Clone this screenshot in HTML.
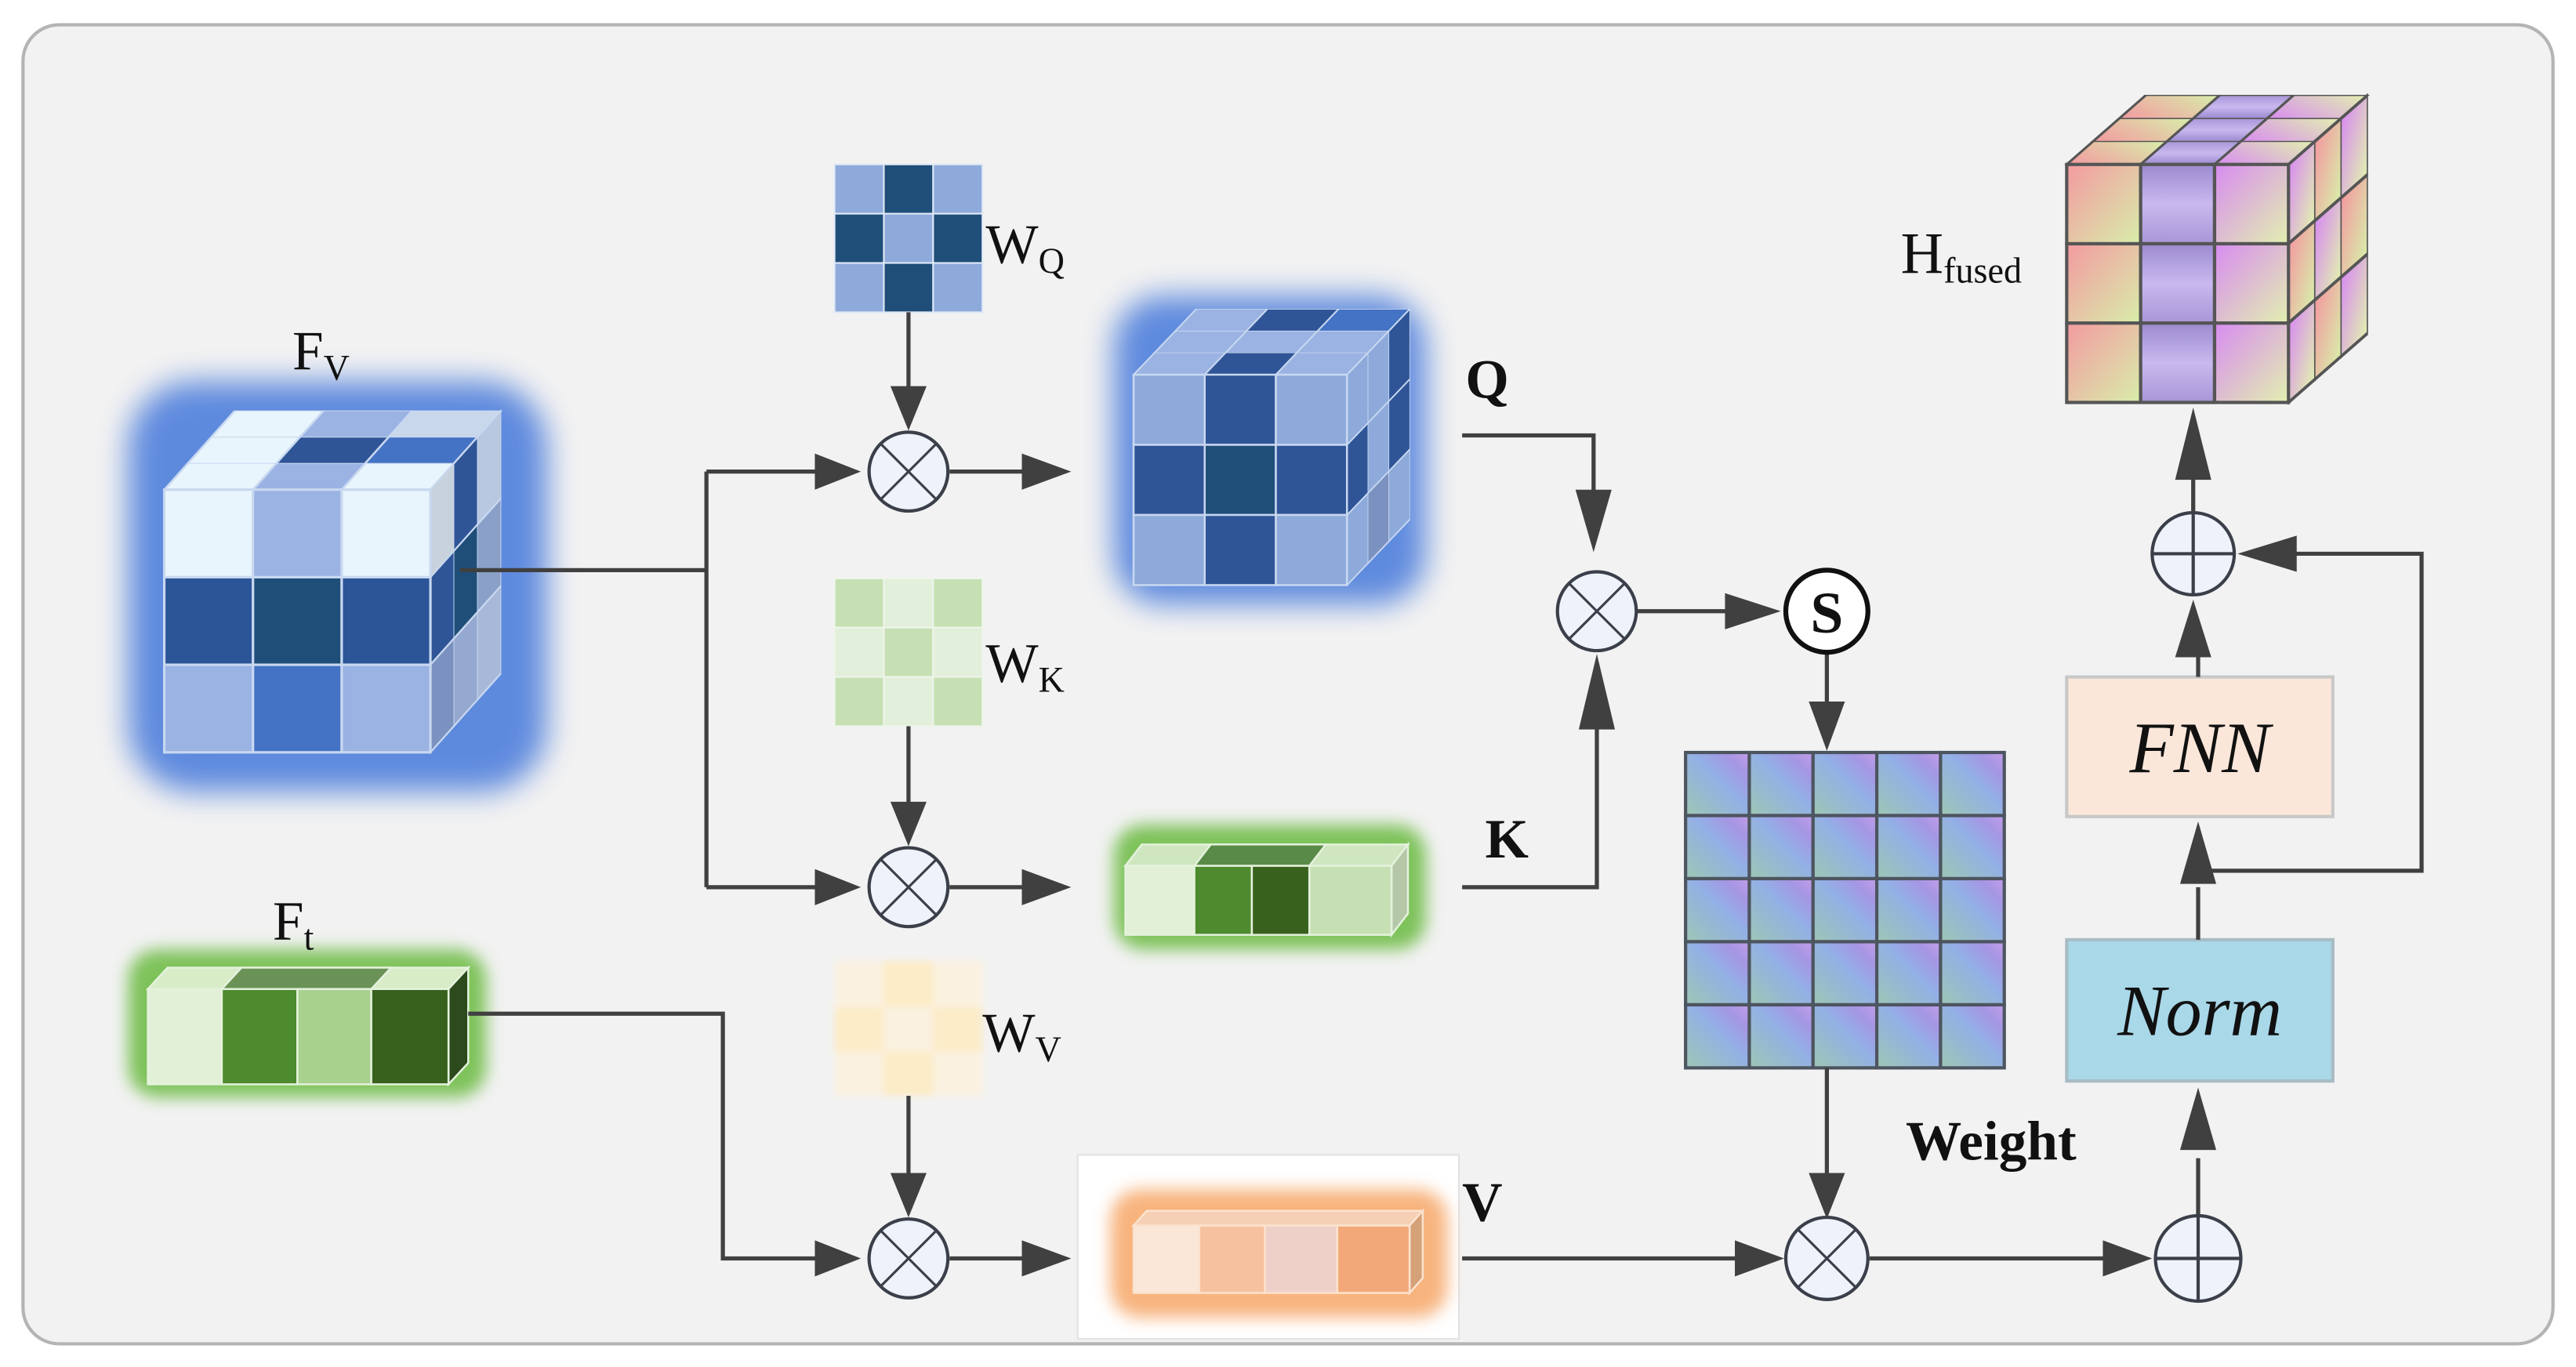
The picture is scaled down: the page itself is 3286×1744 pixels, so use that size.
<!DOCTYPE html>
<html><head><meta charset="utf-8"><style>
html,body{margin:0;padding:0;background:#fff}
svg{display:block}
text{font-family:"Liberation Serif",serif;fill:#111}
</style></head><body>
<svg width="3286" height="1744" viewBox="0 0 1568 832" xmlns="http://www.w3.org/2000/svg">
<defs>
<filter id="gb" x="-30%" y="-30%" width="160%" height="160%"><feGaussianBlur stdDeviation="9"/></filter>
<filter id="gs" x="-30%" y="-30%" width="160%" height="160%"><feGaussianBlur stdDeviation="5"/></filter>
<filter id="blur2"><feGaussianBlur stdDeviation="2"/></filter>
<linearGradient id="wg" x1="0" y1="1" x2="1" y2="0">
<stop offset="0" stop-color="#9ec6b4"/><stop offset="0.55" stop-color="#93b0e6"/><stop offset="0.8" stop-color="#a596e4"/><stop offset="1" stop-color="#c39ee8"/></linearGradient>
<linearGradient id="h1" x1="0" y1="0" x2="1" y2="1"><stop offset="0" stop-color="#f39aa0"/><stop offset="1" stop-color="#d8eeaa"/></linearGradient>
<linearGradient id="h2" x1="0" y1="0" x2="0" y2="1"><stop offset="0" stop-color="#9c8ad0"/><stop offset="0.5" stop-color="#c8b8ee"/><stop offset="1" stop-color="#a896d8"/></linearGradient>
<linearGradient id="h3" x1="0" y1="0" x2="1" y2="1"><stop offset="0" stop-color="#d88cf0"/><stop offset="1" stop-color="#e2f0b0"/></linearGradient>
</defs>

<rect x="14" y="15" width="1540" height="803" rx="22" fill="#f2f2f2" stroke="#b4b4b4" stroke-width="2"/>

<!-- glows -->
<rect x="78" y="232" width="255" height="250" rx="40" fill="#4f7fdc" filter="url(#gb)" opacity="0.9"/>
<rect x="678" y="180" width="190" height="188" rx="30" fill="#4f7fdc" filter="url(#gb)" opacity="0.9"/>
<rect x="678" y="502" width="190" height="76" rx="18" fill="#7ec25a" filter="url(#gs)"/>
<rect x="78" y="578" width="218" height="90" rx="18" fill="#7ec25a" filter="url(#gs)"/>
<rect x="656" y="703" width="232" height="112" fill="#ffffff" stroke="#e2e2e2"/>
<rect x="676" y="724" width="205" height="78" rx="18" fill="#f8b47e" filter="url(#gs)"/>

<!-- Fv cube -->
<g stroke="#c8d8f0" stroke-width="1.5">
<g transform="matrix(54,0,14.3,-16,100,298)" stroke-width="0.03">
<rect x="0" y="0" width="1" height="1" fill="#e8f5fc"/><rect x="1" y="0" width="1" height="1" fill="#9bb3e3"/><rect x="2" y="0" width="1" height="1" fill="#e8f5fc"/>
<rect x="0" y="1" width="1" height="1" fill="#e8f5fc"/><rect x="1" y="1" width="1" height="1" fill="#2f5597"/><rect x="2" y="1" width="1" height="1" fill="#4472c4"/>
<rect x="0" y="2" width="1" height="1" fill="#e8f5fc"/><rect x="1" y="2" width="1" height="1" fill="#9bb3e3"/><rect x="2" y="2" width="1" height="1" fill="#c8d8ea"/>
</g>
<g transform="matrix(14.3,-16,0,53.3,262,298)" stroke-width="0.03">
<rect x="0" y="0" width="1" height="1" fill="#c8d2dc"/><rect x="1" y="0" width="1" height="1" fill="#2f5597"/><rect x="2" y="0" width="1" height="1" fill="#b8c8e0"/>
<rect x="0" y="1" width="1" height="1" fill="#2f5597"/><rect x="1" y="1" width="1" height="1" fill="#1f4e79"/><rect x="2" y="1" width="1" height="1" fill="#8aa0c8"/>
<rect x="0" y="2" width="1" height="1" fill="#7b92c0"/><rect x="1" y="2" width="1" height="1" fill="#95a8d0"/><rect x="2" y="2" width="1" height="1" fill="#a8b8d8"/>
</g>
<rect x="100" y="298" width="54" height="53.3" fill="#e8f5fc"/><rect x="154" y="298" width="54" height="53.3" fill="#9bb3e3"/><rect x="208" y="298" width="54" height="53.3" fill="#e8f5fc"/>
<rect x="100" y="351.3" width="54" height="53.3" fill="#2b5597"/><rect x="154" y="351.3" width="54" height="53.3" fill="#1f4e79"/><rect x="208" y="351.3" width="54" height="53.3" fill="#2b5597"/>
<rect x="100" y="404.6" width="54" height="53.3" fill="#9bb3e3"/><rect x="154" y="404.6" width="54" height="53.3" fill="#4472c4"/><rect x="208" y="404.6" width="54" height="53.3" fill="#9bb3e3"/>
</g>

<!-- Q cube -->
<g stroke="#c8d8f0" stroke-width="1.2">
<g transform="matrix(43.3,0,12.7,-13.3,690,228)" stroke-width="0.03">
<rect x="0" y="0" width="1" height="1" fill="#9bb3e3"/><rect x="1" y="0" width="1" height="1" fill="#2f5597"/><rect x="2" y="0" width="1" height="1" fill="#9bb3e3"/>
<rect x="0" y="1" width="1" height="1" fill="#9bb3e3"/><rect x="1" y="1" width="1" height="1" fill="#9bb3e3"/><rect x="2" y="1" width="1" height="1" fill="#9bb3e3"/>
<rect x="0" y="2" width="1" height="1" fill="#9bb3e3"/><rect x="1" y="2" width="1" height="1" fill="#2f5597"/><rect x="2" y="2" width="1" height="1" fill="#4472c4"/>
</g>
<g transform="matrix(12.7,-13.3,0,42.7,820,228)" stroke-width="0.03">
<rect x="0" y="0" width="1" height="1" fill="#8eaadb"/><rect x="1" y="0" width="1" height="1" fill="#8eaadb"/><rect x="2" y="0" width="1" height="1" fill="#2f5597"/>
<rect x="0" y="1" width="1" height="1" fill="#2f5597"/><rect x="1" y="1" width="1" height="1" fill="#8eaadb"/><rect x="2" y="1" width="1" height="1" fill="#2f5597"/>
<rect x="0" y="2" width="1" height="1" fill="#8eaadb"/><rect x="1" y="2" width="1" height="1" fill="#7b92c0"/><rect x="2" y="2" width="1" height="1" fill="#8eaadb"/>
</g>
<rect x="690" y="228" width="43.3" height="42.7" fill="#8eaadb"/><rect x="733.3" y="228" width="43.3" height="42.7" fill="#2f5597"/><rect x="776.6" y="228" width="43.3" height="42.7" fill="#8eaadb"/>
<rect x="690" y="270.7" width="43.3" height="42.7" fill="#2f5597"/><rect x="733.3" y="270.7" width="43.3" height="42.7" fill="#1f4e79"/><rect x="776.6" y="270.7" width="43.3" height="42.7" fill="#2f5597"/>
<rect x="690" y="313.4" width="43.3" height="42.7" fill="#8eaadb"/><rect x="733.3" y="313.4" width="43.3" height="42.7" fill="#2f5597"/><rect x="776.6" y="313.4" width="43.3" height="42.7" fill="#8eaadb"/>
</g>

<!-- K bar -->
<g stroke="#e4f2dc" stroke-width="1.2">
<polygon points="685,527 695,514 857,514 847,527" fill="#cfe6c0"/>
<polygon points="727,527 737,514 807,514 797,527" fill="#5a8a48"/>
<polygon points="847,527 857,514 857,556 847,569" fill="#b4c8a8"/>
<rect x="685" y="527" width="42" height="42" fill="#e2f0d8"/>
<rect x="727" y="527" width="35" height="42" fill="#4e8a2e"/>
<rect x="762" y="527" width="35" height="42" fill="#38611e"/>
<rect x="797" y="527" width="50" height="42" fill="#c6e0b4"/>
</g>

<!-- Ft bar -->
<g stroke="#e4f2dc" stroke-width="1.2">
<polygon points="90,602 102,589 285,589 273,602" fill="#d8ecc8"/>
<polygon points="135,602 147,589 238,589 226,602" fill="#6a9256"/>
<polygon points="273,602 285,589 285,647 273,660" fill="#2c4a1c"/>
<rect x="90" y="602" width="45" height="58" fill="#e2f0d8"/>
<rect x="135" y="602" width="46" height="58" fill="#4e8a2e"/>
<rect x="181" y="602" width="45" height="58" fill="#a9d18e"/>
<rect x="226" y="602" width="47" height="58" fill="#38611e"/>
</g>

<!-- V bar -->
<g stroke="#fbe6d4" stroke-width="1.2" opacity="0.95">
<polygon points="690,746 698,737 866,737 858,746" fill="#f6d2b8"/>
<polygon points="858,746 866,737 866,778 858,787" fill="#d4a078"/>
<rect x="690" y="746" width="40" height="41" fill="#fbeadc"/>
<rect x="730" y="746" width="40" height="41" fill="#f6c2a0"/>
<rect x="770" y="746" width="44" height="41" fill="#eed2cc"/>
<rect x="814" y="746" width="44" height="41" fill="#f2a878"/>
</g>

<!-- W matrices -->
<g stroke="#dfe8f5" stroke-width="1">
<rect x="508" y="100" width="30" height="30" fill="#8eaadb"/><rect x="538" y="100" width="30" height="30" fill="#1f4e79"/><rect x="568" y="100" width="30" height="30" fill="#8eaadb"/>
<rect x="508" y="130" width="30" height="30" fill="#1f4e79"/><rect x="538" y="130" width="30" height="30" fill="#8eaadb"/><rect x="568" y="130" width="30" height="30" fill="#1f4e79"/>
<rect x="508" y="160" width="30" height="30" fill="#8eaadb"/><rect x="538" y="160" width="30" height="30" fill="#1f4e79"/><rect x="568" y="160" width="30" height="30" fill="#8eaadb"/>
</g>
<g stroke="#eef5ea" stroke-width="1">
<rect x="508" y="352" width="30" height="30" fill="#c6e0b4"/><rect x="538" y="352" width="30" height="30" fill="#e2efda"/><rect x="568" y="352" width="30" height="30" fill="#c6e0b4"/>
<rect x="508" y="382" width="30" height="30" fill="#e2efda"/><rect x="538" y="382" width="30" height="30" fill="#c6e0b4"/><rect x="568" y="382" width="30" height="30" fill="#e2efda"/>
<rect x="508" y="412" width="30" height="30" fill="#c6e0b4"/><rect x="538" y="412" width="30" height="30" fill="#e2efda"/><rect x="568" y="412" width="30" height="30" fill="#c6e0b4"/>
</g>
<g filter="url(#blur2)">
<rect x="508" y="585" width="90" height="82" fill="#fbf1e0"/>
<rect x="538" y="585" width="30" height="28" fill="#fcecc8"/><rect x="508" y="613" width="30" height="27" fill="#fcecc8"/><rect x="568" y="613" width="30" height="27" fill="#fcecc8"/><rect x="538" y="640" width="30" height="27" fill="#fcecc8"/>
</g>

<!-- Weight grid -->
<g stroke="#4d5560" stroke-width="2">
<rect x="1026" y="458" width="38.8" height="38.4" fill="url(#wg)"/><rect x="1064.8" y="458" width="38.8" height="38.4" fill="url(#wg)"/><rect x="1103.6" y="458" width="38.8" height="38.4" fill="url(#wg)"/><rect x="1142.4" y="458" width="38.8" height="38.4" fill="url(#wg)"/><rect x="1181.2" y="458" width="38.8" height="38.4" fill="url(#wg)"/>
<rect x="1026" y="496.4" width="38.8" height="38.4" fill="url(#wg)"/><rect x="1064.8" y="496.4" width="38.8" height="38.4" fill="url(#wg)"/><rect x="1103.6" y="496.4" width="38.8" height="38.4" fill="url(#wg)"/><rect x="1142.4" y="496.4" width="38.8" height="38.4" fill="url(#wg)"/><rect x="1181.2" y="496.4" width="38.8" height="38.4" fill="url(#wg)"/>
<rect x="1026" y="534.8" width="38.8" height="38.4" fill="url(#wg)"/><rect x="1064.8" y="534.8" width="38.8" height="38.4" fill="url(#wg)"/><rect x="1103.6" y="534.8" width="38.8" height="38.4" fill="url(#wg)"/><rect x="1142.4" y="534.8" width="38.8" height="38.4" fill="url(#wg)"/><rect x="1181.2" y="534.8" width="38.8" height="38.4" fill="url(#wg)"/>
<rect x="1026" y="573.2" width="38.8" height="38.4" fill="url(#wg)"/><rect x="1064.8" y="573.2" width="38.8" height="38.4" fill="url(#wg)"/><rect x="1103.6" y="573.2" width="38.8" height="38.4" fill="url(#wg)"/><rect x="1142.4" y="573.2" width="38.8" height="38.4" fill="url(#wg)"/><rect x="1181.2" y="573.2" width="38.8" height="38.4" fill="url(#wg)"/>
<rect x="1026" y="611.6" width="38.8" height="38.4" fill="url(#wg)"/><rect x="1064.8" y="611.6" width="38.8" height="38.4" fill="url(#wg)"/><rect x="1103.6" y="611.6" width="38.8" height="38.4" fill="url(#wg)"/><rect x="1142.4" y="611.6" width="38.8" height="38.4" fill="url(#wg)"/><rect x="1181.2" y="611.6" width="38.8" height="38.4" fill="url(#wg)"/>
</g>

<!-- Hfused cube: front 1258..1393, right to 1441, top back y 58 -->
<g stroke="#555" stroke-width="2">
<g transform="matrix(45,0,16,-14,1258,100)" stroke-width="0.05">
<rect x="0" y="0" width="1" height="1" fill="url(#h1)"/><rect x="1" y="0" width="1" height="1" fill="url(#h2)"/><rect x="2" y="0" width="1" height="1" fill="url(#h3)"/>
<rect x="0" y="1" width="1" height="1" fill="url(#h1)"/><rect x="1" y="1" width="1" height="1" fill="url(#h2)"/><rect x="2" y="1" width="1" height="1" fill="url(#h3)"/>
<rect x="0" y="2" width="1" height="1" fill="url(#h1)"/><rect x="1" y="2" width="1" height="1" fill="url(#h2)"/><rect x="2" y="2" width="1" height="1" fill="url(#h3)"/>
</g>
<g transform="matrix(16,-14,0,48.3,1393,100)" stroke-width="0.05">
<rect x="0" y="0" width="1" height="1" fill="url(#h3)"/><rect x="1" y="0" width="1" height="1" fill="url(#h1)"/><rect x="2" y="0" width="1" height="1" fill="url(#h3)"/>
<rect x="0" y="1" width="1" height="1" fill="url(#h1)"/><rect x="1" y="1" width="1" height="1" fill="url(#h3)"/><rect x="2" y="1" width="1" height="1" fill="url(#h1)"/>
<rect x="0" y="2" width="1" height="1" fill="url(#h3)"/><rect x="1" y="2" width="1" height="1" fill="url(#h1)"/><rect x="2" y="2" width="1" height="1" fill="url(#h3)"/>
</g>
<rect x="1258" y="100" width="45" height="48.3" fill="url(#h1)"/><rect x="1303" y="100" width="45" height="48.3" fill="url(#h2)"/><rect x="1348" y="100" width="45" height="48.3" fill="url(#h3)"/>
<rect x="1258" y="148.3" width="45" height="48.3" fill="url(#h1)"/><rect x="1303" y="148.3" width="45" height="48.3" fill="url(#h2)"/><rect x="1348" y="148.3" width="45" height="48.3" fill="url(#h3)"/>
<rect x="1258" y="196.6" width="45" height="48.3" fill="url(#h1)"/><rect x="1303" y="196.6" width="45" height="48.3" fill="url(#h2)"/><rect x="1348" y="196.6" width="45" height="48.3" fill="url(#h3)"/>
</g>

<!-- boxes -->
<rect x="1258" y="412" width="162" height="85" fill="#fbe7da" stroke="#c8c8c8" stroke-width="2"/>
<rect x="1258" y="572" width="162" height="86" fill="#a9d8e8" stroke="#a8bcc4" stroke-width="2"/>
<text x="1339" y="470" font-size="44" font-style="italic" text-anchor="middle">FNN</text>
<text x="1339" y="630" font-size="44" font-style="italic" text-anchor="middle">Norm</text>

<!-- lines -->
<g fill="none" stroke="#404040" stroke-width="2.5">
<path d="M280 347 H430 M430 287 V540 M430 287 H500 M430 540 H500"/>
<path d="M285 617 H440 V766 H500"/>
<path d="M553 190 V240 M553 442 V493 M553 667 V718"/>
<path d="M578 287 H625 M578 540 H625 M578 766 H625"/>
<path d="M890 265 H970 V300 M890 540 H972 V443"/>
<path d="M996 372 H1055 M1112 398 V430 M1112 650 V720"/>
<path d="M890 766 H1060 M1138 766 H1285"/>
<path d="M1338 740 V705 M1338 572 V540 M1338 530 H1474 V337 H1395 M1338 412 V400 M1335 311 V290"/>
</g>
<g fill="#404040">
<polygon points="524,287 496,276 496,298"/><polygon points="524,540 496,529 496,551"/><polygon points="524,766 496,755 496,777"/>
<polygon points="553,262 542,235 564,235"/><polygon points="553,515 542,488 564,488"/><polygon points="553,741 542,714 564,714"/>
<polygon points="652,287 622,276 622,298"/><polygon points="652,540 622,529 622,551"/><polygon points="652,766 622,755 622,777"/>
<polygon points="970,336 959,298 981,298"/><polygon points="972,398 961,444 983,444"/>
<polygon points="1084,372 1050,361 1050,383"/><polygon points="1112,457 1101,427 1123,427"/>
<polygon points="1112,742 1101,714 1123,714"/><polygon points="1086,766 1056,755 1056,777"/>
<polygon points="1310,766 1280,755 1280,777"/><polygon points="1338,662 1327,700 1349,700"/>
<polygon points="1338,500 1327,538 1349,538"/><polygon points="1335,365 1324,400 1346,400"/>
<polygon points="1362,337 1398,326 1398,348"/><polygon points="1335,248 1324,292 1346,292"/>
</g>

<!-- circles -->
<g fill="#eef2fa" stroke="#3a3f4a" stroke-width="2">
<circle cx="553" cy="287" r="24"/><circle cx="553" cy="540" r="24"/><circle cx="553" cy="766" r="24"/>
<circle cx="972" cy="372" r="24"/><circle cx="1112" cy="766" r="25"/>
<circle cx="1338" cy="766" r="26"/><circle cx="1335" cy="337" r="25"/>
</g>
<g stroke="#3a3f4a" stroke-width="1.5">
<path d="M536 270 L570 304 M570 270 L536 304 M536 523 L570 557 M570 523 L536 557 M536 749 L570 783 M570 749 L536 783 M955 355 L989 389 M989 355 L955 389 M1094 748 L1130 784 M1130 748 L1094 784"/>
<path d="M1312 766 H1364 M1338 740 V792 M1310 337 H1360 M1335 312 V362" stroke-width="2"/>
</g>
<circle cx="1112" cy="372" r="25" fill="#fff" stroke="#111" stroke-width="3"/>
<text x="1112" y="385" font-size="36" font-weight="bold" text-anchor="middle">S</text>

<!-- labels -->
<text x="178" y="225" font-size="34">F<tspan font-size="22" dy="6">V</tspan></text>
<text x="166" y="572" font-size="34">F<tspan font-size="22" dy="6">t</tspan></text>
<text x="600" y="160" font-size="34">W<tspan font-size="22" dy="6">Q</tspan></text>
<text x="600" y="415" font-size="34">W<tspan font-size="22" dy="6">K</tspan></text>
<text x="598" y="640" font-size="34">W<tspan font-size="22" dy="6">V</tspan></text>
<text x="892" y="242" font-size="34" font-weight="bold">Q</text>
<text x="904" y="522" font-size="34" font-weight="bold">K</text>
<text x="890" y="743" font-size="34" font-weight="bold">V</text>
<text x="1160" y="706" font-size="34" font-weight="bold">Weight</text>
<text x="1157" y="166" font-size="36">H<tspan font-size="22" dy="6">fused</tspan></text>
</svg>
</body></html>
